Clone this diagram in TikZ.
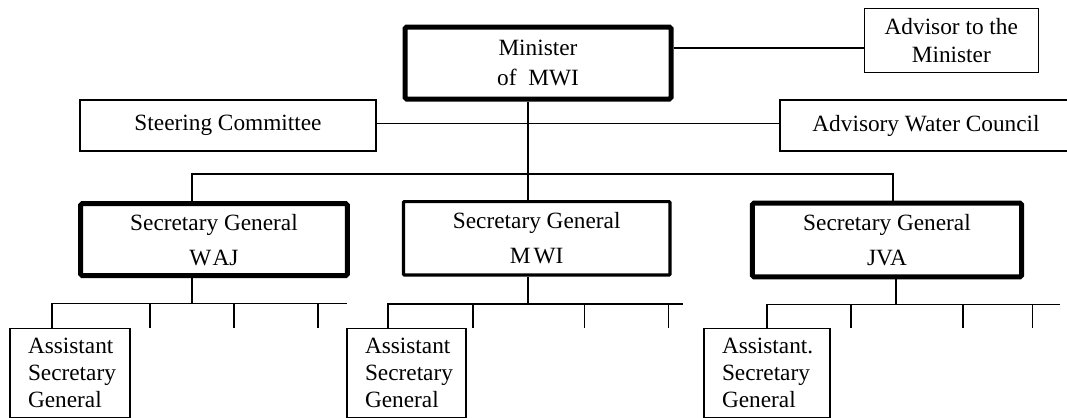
\documentclass[tikz,border=0pt]{standalone}
\usepackage{fontspec}
\setmainfont{Liberation Serif}
\begin{document}
\begin{tikzpicture}[x=0.5pt,y=-0.5pt,
  box/.style={draw,line width=0.6pt,inner sep=0pt,align=center,font=\fontsize{11.65}{14}\selectfont},
  heavy/.style={box,line width=2.5pt,rounded corners=0.8pt},
  medium/.style={box,line width=1.6pt,rounded corners=0.5pt},
  asg/.style={box,align=left,inner xsep=9pt,minimum height=44.5pt,font=\fontsize{11.65}{13.5}\selectfont},
  txt/.style={inner sep=0pt,font=\fontsize{11.65}{14}\selectfont},
  link/.style={line width=0.8pt}]
\clip (0,0) rectangle (1067,418);
% boxes
\node[heavy,minimum width=133pt,minimum height=36pt,font=\fontsize{11.65}{15}\selectfont] (min) at (538,63) {Minister\\of~~MWI};
\node[box,minimum width=87pt,minimum height=32.2pt] (adv) at (951.3,40.5) {Advisor to the\\Minister};
\node[box,minimum width=148pt,minimum height=25.5pt] (stc) at (228,125.5) {Steering Committee};
\node[box,minimum width=160pt,minimum height=25.5pt] (awc) at (940,125.5) {};
\node[txt] (awct) at (926,125.5) {Advisory Water Council};
\node[heavy,minimum width=133.3pt,minimum height=36pt,font=\fontsize{11.65}{17.5}\selectfont] (waj) at (214,239.6) {Secretary General\\W\kern0.6pt AJ};
\node[medium,minimum width=133.3pt,minimum height=36.7pt,font=\fontsize{11.65}{17.5}\selectfont] (sgm) at (536.7,238.3) {Secretary General\\M\kern1.5pt WI};
\node[heavy,minimum width=134.7pt,minimum height=36.8pt,font=\fontsize{11.65}{17.5}\selectfont] (jva) at (887,240) {Secretary General\\JVA};
\node[asg,minimum width=60pt,text width=42pt] (a1) at (70,372.7) {Assistant\\Secretary\\General};
\node[asg,minimum width=59.5pt,text width=41.5pt] (a2) at (406.5,373) {Assistant\\Secretary\\General};
\node[asg,minimum width=63pt,text width=45pt] (a3) at (767,372.7) {Assistant.\\Secretary\\General};
% top connectors
\coordinate (ma) at (0,48);
\draw[link] (min.east |- ma) -- (adv.west |- ma);
\coordinate (sl) at (0,123.3);
\draw[link] (stc.east |- sl) -- (awc.west |- sl);
\coordinate (top) at (528,174);
\draw[link] (min.south -| top) -- (sgm.north -| top);
\coordinate (wj) at (192,174);
\coordinate (jv) at (893,174);
\draw[link] (waj.north -| wj) -- (wj) -- (jv) -- (jva.north -| jv);
% WAJ branch
\coordinate (wb) at (192,303.3);
\coordinate (w1) at (52,303.3);
\coordinate (w4) at (347,303.3);
\draw[link] (waj.south -| wb) -- (wb);
\draw[link] (a1.north -| w1) -- (w1) -- (w4);
\foreach \x in {150,234,318} \draw[link] (\x,303.3) -- (a1.north -| \x,0);
% MWI branch
\coordinate (mb) at (528,304);
\coordinate (m1) at (388,304);
\coordinate (m4) at (683,304);
\draw[link] (sgm.south -| mb) -- (mb);
\draw[link] (a2.north -| m1) -- (m1) -- (m4);
\foreach \x in {472.7,584.3,668.3} \draw[link] (\x,304) -- (a2.north -| \x,0);
% JVA branch
\coordinate (jb) at (896,304.3);
\coordinate (j1) at (766.7,304.3);
\coordinate (j4) at (1060,304.3);
\draw[link] (jva.south -| jb) -- (jb);
\draw[link] (a3.north -| j1) -- (j1) -- (j4);
\foreach \x in {850.7,962.7,1032.3} \draw[link] (\x,304.3) -- (a3.north -| \x,0);
\end{tikzpicture}
\end{document}
